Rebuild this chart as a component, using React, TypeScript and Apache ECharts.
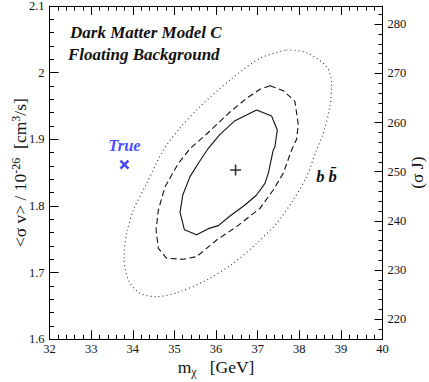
import React, { useEffect, useRef } from 'react';
import * as echarts from 'echarts';

// Contours (m_chi [GeV], <sigma v> / 1e-26)
const solidX = [36.976, 37.216, 37.336, 37.472, 37.416, 37.376, 37.256, 37.176, 36.976, 36.696, 36.336, 36.056, 35.816, 35.536, 35.24, 35.136, 35.2, 35.376, 35.576, 35.816, 36.096, 36.456];
const solidY = [1.944, 1.938, 1.935, 1.914, 1.889, 1.884, 1.849, 1.834, 1.8165, 1.8015, 1.785, 1.7705, 1.766, 1.757, 1.7645, 1.7905, 1.816, 1.844, 1.864, 1.8865, 1.9075, 1.928];

const dashedX = [37.296, 37.616, 37.896, 37.976, 37.936, 37.816, 37.616, 37.376, 37.056, 36.496, 36.016, 35.536, 35.216, 34.816, 34.616, 34.56, 34.616, 34.776, 35.096, 35.376, 35.776, 36.336, 36.736, 37.056];
const dashedY = [1.9805, 1.973, 1.957, 1.922, 1.9, 1.884, 1.849, 1.824, 1.7965, 1.769, 1.749, 1.724, 1.72, 1.7215, 1.7365, 1.764, 1.794, 1.829, 1.864, 1.886, 1.908, 1.941, 1.9615, 1.975];

const dottedX = [37.696, 38.176, 38.656, 38.776, 38.736, 38.576, 38.416, 38.176, 37.856, 37.456, 36.976, 36.416, 35.776, 35.136, 34.576, 34.176, 33.896, 33.792, 33.856, 34.016, 34.336, 34.736, 35.136, 35.616, 36.336, 37.056];
const dottedY = [2.034, 2.03, 2.009, 1.984, 1.949, 1.909, 1.884, 1.844, 1.809, 1.774, 1.744, 1.714, 1.689, 1.6715, 1.664, 1.669, 1.689, 1.724, 1.759, 1.794, 1.834, 1.884, 1.917, 1.949, 1.989, 2.0215];

const bestFit = [36.47, 1.854];
const truePoint = [33.8, 1.862];

// Axes
const xMin = 32, xMax = 40, xStep = 1;
const yMin = 1.6, yMax = 2.1, yStep = 0.1;
const jMin = 215.9, jMax = 283.7;
const jMajorTicks = [220, 230, 240, 250, 260, 270, 280];
const jMinorTicks = [216, 218, 222, 224, 226, 228, 232, 234, 236, 238, 242, 244, 246, 248, 252, 254, 256, 258, 262, 264, 266, 268, 272, 274, 276, 278, 282];

const titleLines = ['Dark Matter Model C', 'Floating Background'];
const channelLabel = 'b b\u0304';
const trueLabel = 'True';

const FONT = "'Liberation Serif', 'Times New Roman', serif";

function closed(xs: number[], ys: number[]) {
  const pts = xs.map((x, i) => [x, ys[i]]);
  pts.push([xs[0], ys[0]]);
  return pts;
}

export default function App() {
  const ref = useRef<HTMLDivElement>(null);
  useEffect(() => {
    if (!ref.current) return;
    const chart = echarts.init(ref.current, undefined, { renderer: 'svg' });
    const axisLabelStyle = { fontFamily: FONT, fontSize: 12.5, color: '#111' };
    const lineStyle = { color: '#000', width: 1 };
    chart.setOption({
      animation: false,
      backgroundColor: '#fff',
      grid: { left: 49.5, right: 46.5, top: 6, bottom: 42.7, containLabel: false, outerBoundsMode: 'none' },
      xAxis: [
        {
          type: 'value', position: 'bottom', min: xMin, max: xMax, interval: xStep,
          axisLine: { show: true, lineStyle },
          axisTick: { show: true, inside: true, length: 9, lineStyle },
          minorTick: { show: true, splitNumber: 5, length: 4.5, lineStyle },
          splitLine: { show: false },
          axisLabel: { ...axisLabelStyle, margin: 3 },
          name: '{a|m}{sub|\u03c7}{a|   [GeV]}',
          nameLocation: 'middle', nameGap: 17, nameMoveOverlap: false,
          nameTextStyle: {
            rich: {
              a: { fontFamily: FONT, fontSize: 17.5, color: '#111', lineHeight: 22 },
              sub: { fontFamily: FONT, fontSize: 12, color: '#111', verticalAlign: 'bottom' },
            },
          },
        },
        {
          type: 'value', position: 'top', min: xMin, max: xMax, interval: xStep,
          axisLine: { show: true, lineStyle },
          axisTick: { show: true, inside: true, length: 9, lineStyle },
          minorTick: { show: true, splitNumber: 5, length: 4.5, lineStyle },
          splitLine: { show: false },
          axisLabel: { show: false },
        },
      ],
      yAxis: [
        {
          type: 'value', position: 'left', min: yMin, max: yMax, interval: yStep,
          axisLine: { show: true, lineStyle },
          axisTick: { show: true, inside: true, length: 9, lineStyle },
          minorTick: { show: true, splitNumber: 5, length: 4.5, lineStyle },
          splitLine: { show: false },
          axisLabel: { ...axisLabelStyle, margin: 5, formatter: (v: number) => String(Math.round(v * 10) / 10) },
          name: '{a|<\u03c3 v> / 10}{sup|-26}{a|  [cm}{sup|3}{a|/s]}',
          nameLocation: 'middle', nameGap: 20, nameMoveOverlap: false,
          nameTextStyle: {
            rich: {
              a: { fontFamily: FONT, fontSize: 17.5, color: '#111', lineHeight: 20 },
              sup: { fontFamily: FONT, fontSize: 12, color: '#111', verticalAlign: 'top' },
            },
          },
        },
        {
          type: 'value', position: 'right', min: jMin, max: jMax,
          axisLine: { show: true, lineStyle },
          axisTick: { show: true, inside: true, length: 8, lineStyle, customValues: jMajorTicks },
          splitLine: { show: false },
          axisLabel: { ...axisLabelStyle, margin: 5, customValues: jMajorTicks },
          name: '(\u03c3 J)',
          nameLocation: 'middle', nameGap: 25, nameRotate: 90, nameMoveOverlap: false,
          nameTextStyle: { fontFamily: FONT, fontSize: 17.5, color: '#111' },
        },
        {
          type: 'value', position: 'right', min: jMin, max: jMax,
          axisLine: { show: false },
          axisTick: { show: true, inside: true, length: 4, lineStyle, customValues: jMinorTicks },
          splitLine: { show: false },
          axisLabel: { show: false },
        },
      ],
      series: [
        {
          type: 'line', xAxisIndex: 0, yAxisIndex: 0, data: closed(dottedX, dottedY),
          symbol: 'none', smooth: 0.3,
          lineStyle: { color: '#333', width: 1.1, type: [1, 3] },
        },
        {
          type: 'line', xAxisIndex: 0, yAxisIndex: 0, data: closed(dashedX, dashedY),
          symbol: 'none',
          lineStyle: { color: '#111', width: 1.1, type: [6, 3.5] },
        },
        {
          type: 'line', xAxisIndex: 0, yAxisIndex: 0, data: closed(solidX, solidY),
          symbol: 'none',
          lineStyle: { color: '#111', width: 1.1 },
        },
        {
          type: 'scatter', xAxisIndex: 0, yAxisIndex: 0, data: [bestFit],
          symbol: 'path://M0,5L10,5M5,0L5,10', symbolSize: 11,
          itemStyle: { color: 'none', borderColor: '#000', borderWidth: 1.6 },
        },
        {
          type: 'scatter', xAxisIndex: 0, yAxisIndex: 0, data: [truePoint],
          symbol: 'path://M0,0L10,10M10,0L0,10', symbolSize: 8,
          itemStyle: { color: 'none', borderColor: '#1a1aff', borderWidth: 2.6 },
          label: {
            show: true, position: 'inside', offset: [0, -19], formatter: trueLabel,
            fontFamily: FONT, fontSize: 16.5, fontStyle: 'italic', fontWeight: 'bold', color: '#1a1aff',
          },
        },
      ],
      graphic: [
        {
          type: 'text', x: 70, y: 32,
          style: { text: titleLines[0], fontFamily: FONT, fontSize: 17, fontStyle: 'italic', fontWeight: 'bold', fill: '#111', textVerticalAlign: 'middle' },
        },
        {
          type: 'text', x: 68, y: 54,
          style: { text: titleLines[1], fontFamily: FONT, fontSize: 17, fontStyle: 'italic', fontWeight: 'bold', fill: '#111', textVerticalAlign: 'middle' },
        },
        {
          type: 'text', x: 326.5, y: 176,
          style: { text: channelLabel, fontFamily: FONT, fontSize: 16.5, fontStyle: 'italic', fontWeight: 'bold', fill: '#111', textAlign: 'center', textVerticalAlign: 'middle' },
        },
      ],
    });
    return () => chart.dispose();
  }, []);
  return <div ref={ref} style={{ position: 'fixed', left: 0, top: 0, width: 429, height: 382 }} />;
}
